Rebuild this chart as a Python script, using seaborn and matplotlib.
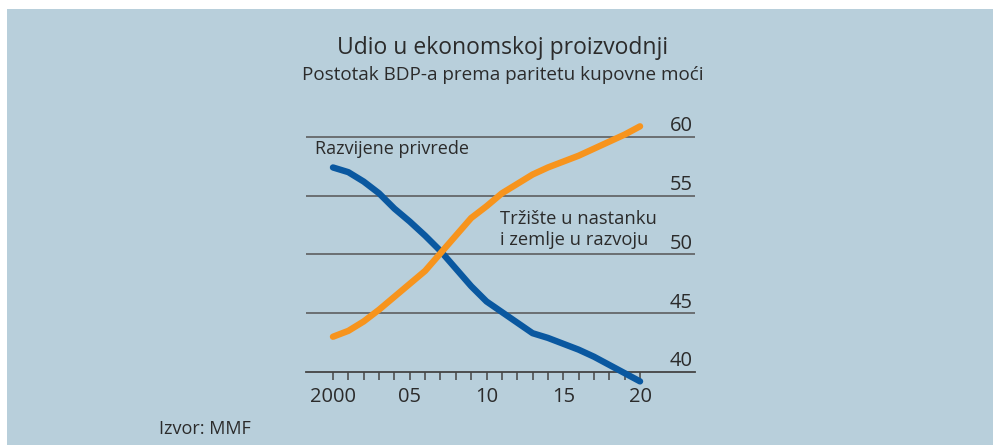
import matplotlib.pyplot as plt
import matplotlib.transforms as mtransforms
import seaborn as sns
import pandas as pd

# Udio u svjetskom BDP-u (PPP), procjena s grafa
godine = list(range(2000, 2021))
razvijene = [57.4, 57.0, 56.2, 55.2, 53.9, 52.8, 51.6, 50.3, 48.8, 47.3, 46.0,
             45.1, 44.2, 43.3, 42.9, 42.4, 41.9, 41.3, 40.6, 39.9, 39.2]
trzista = [43.0, 43.5, 44.3, 45.3, 46.4, 47.5, 48.6, 50.1, 51.6, 53.1, 54.1,
           55.2, 56.0, 56.8, 57.4, 57.9, 58.4, 59.0, 59.6, 60.2, 60.9]
y_oznake = [40, 45, 50, 55, 60]
x_oznake = [2000, 2005, 2010, 2015, 2020]
x_tekst = ["2000", "05", "10", "15", "20"]

bg = "#b8cfdb"
plava = "#0a58a0"
narancasta = "#f7941d"
tekst = "#2b2b2b"

sns.set_style("white")
plt.rcParams['font.family'] = ['Open Sans', 'DejaVu Sans']

df = pd.DataFrame({"godina": godine * 2,
                   "udio": razvijene + trzista,
                   "skupina": ["razvijene"] * len(godine) + ["trzista"] * len(godine)})

fig = plt.figure(figsize=(9.95, 4.47), dpi=100)
fig.patch.set_facecolor("white")
fig.patches.append(plt.Rectangle((7 / 995, 2 / 447), 986 / 995, 436 / 447,
                                 transform=fig.transFigure, facecolor=bg,
                                 edgecolor="none", zorder=-10))

ax = fig.add_axes([0.3075, 0.1678, 0.391, 0.5638])
ax.set_facecolor("none")
sns.lineplot(data=df, x="godina", y="udio", hue="skupina",
             palette={"razvijene": plava, "trzista": narancasta},
             linewidth=4.6, legend=False, ax=ax,
             solid_capstyle="round", solid_joinstyle="round")
for ln in ax.lines:
    ln.set_clip_on(False)

ax.set_xlim(1998.24, 2023.58)
ax.set_ylim(40, 61.44)
for v in y_oznake[1:]:
    ax.axhline(v, color="#555555", linewidth=1.1, zorder=0)
for s in ["top", "right", "left"]:
    ax.spines[s].set_visible(False)
ax.spines["bottom"].set_color("#444444")
ax.spines["bottom"].set_linewidth(1.3)
ax.spines["bottom"].set_zorder(0.5)

ax.set_xticks(x_oznake)
ax.set_xticklabels(x_tekst)
ax.set_xticks(godine, minor=True)
ax.tick_params(axis="x", which="both", direction="out", length=6, width=1.1,
               color="#444444", labelsize=14.5, labelcolor=tekst, pad=5, bottom=True)
ax.set_yticks([])
ax.set_xlabel("")
ax.set_ylabel("")

trans = mtransforms.blended_transform_factory(ax.transAxes, ax.transData)
for v in y_oznake:
    ax.text(0.995, v + 0.05, str(v), transform=trans, ha="right", va="bottom",
            fontsize=14.5, color=tekst)

ax.text(1998.85, 58.2, "Razvijene privrede", fontsize=13, color=tekst,
        ha="left", va="bottom")
ax.text(2010.9, 50.5, "Tržište u nastanku\ni zemlje u razvoju", fontsize=13.2,
        color=tekst, ha="left", va="bottom", linespacing=1.15)

fig.text(0.505, 0.893, "Udio u ekonomskoj proizvodnji", ha="center", va="center",
         fontsize=16.5, color=tekst)
fig.text(0.505, 0.832, "Postotak BDP-a prema paritetu kupovne moći", ha="center",
         va="center", fontsize=13.6, color=tekst)
fig.text(0.160, 0.020, "Izvor: MMF", ha="left", va="bottom", fontsize=13,
         color=tekst)

fig.savefig("out.png", dpi=100, facecolor=fig.get_facecolor())
